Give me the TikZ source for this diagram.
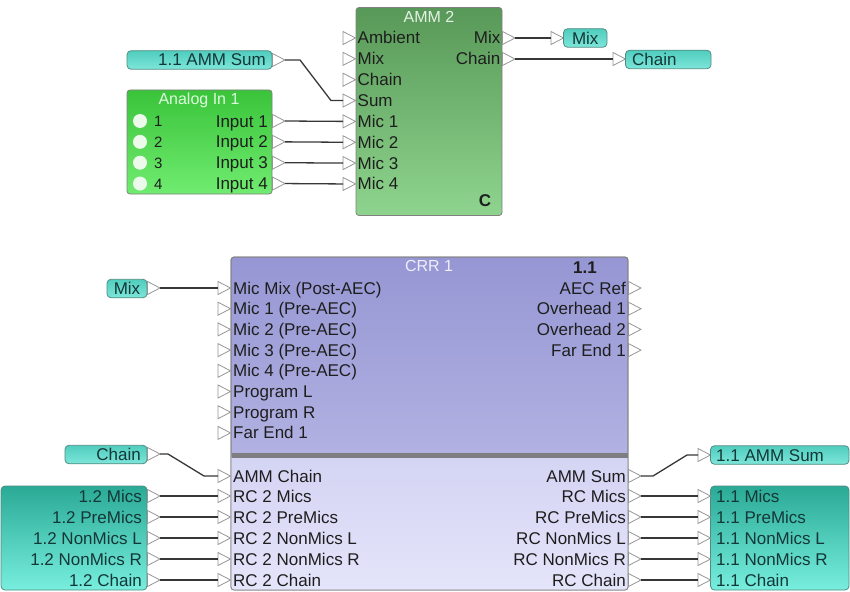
\documentclass[tikz,border=0pt]{standalone}
\usepackage{fontspec}
\setmainfont{Liberation Sans}
\usetikzlibrary{calc}
\definecolor{ammtop}{RGB}{88,152,88}
\definecolor{ammbot}{RGB}{142,212,142}
\definecolor{anatop}{RGB}{58,196,58}
\definecolor{anabot}{RGB}{112,236,112}
\definecolor{tagtop}{RGB}{80,205,190}
\definecolor{tagbot}{RGB}{125,230,218}
\definecolor{bigtop}{RGB}{42,170,150}
\definecolor{bigbot}{RGB}{120,238,222}
\definecolor{crrtop}{RGB}{150,150,212}
\definecolor{crrbot}{RGB}{196,196,236}
\definecolor{crrlowtop}{RGB}{212,212,244}
\definecolor{crrlowbot}{RGB}{228,228,250}
\definecolor{boxborder}{RGB}{128,128,128}
\definecolor{tagborder}{RGB}{80,140,130}
\definecolor{wirecol}{RGB}{55,55,55}
\definecolor{tricol}{RGB}{150,150,150}
\definecolor{txt}{RGB}{30,30,30}
\definecolor{tagtxt}{RGB}{20,55,55}
\definecolor{ammtitle}{RGB}{228,242,228}
\definecolor{anatitle}{RGB}{222,250,222}
\definecolor{crrtitle}{RGB}{238,238,252}
\definecolor{dotcol}{RGB}{236,250,236}
\definecolor{sepcol}{RGB}{125,125,130}
\newcommand\fs{\fontsize{17}{20}\selectfont}
\newcommand\portpin[3]{%
  \draw[porttri] (#2,#3-6.5) -- (#2+12.5,#3) -- (#2,#3+6.5) -- cycle;
  \coordinate (#1-l) at (#2,#3);
  \coordinate (#1-r) at (#2+12.5,#3);
}
\begin{document}
\begin{tikzpicture}[x=1pt,y=-1pt,
  blk/.style={draw=boxborder, line width=0.8pt, rounded corners=3pt, inner sep=0pt},
  tagbox/.style={draw=tagborder, line width=0.8pt, rounded corners=4pt, inner sep=0pt, top color=tagtop, bottom color=tagbot, minimum height=18.5pt},
  bigbox/.style={draw=tagborder, line width=0.8pt, rounded corners=4pt, inner sep=0pt, top color=bigtop, bottom color=bigbot},
  porttri/.style={draw=tricol, fill=white, line width=0.8pt, line join=miter},
  wire/.style={draw=wirecol, line width=1.3pt},
  lbl/.style={font=\fs, inner sep=0pt, text=txt},
  taglbl/.style={font=\fs, inner sep=0pt, text=tagtxt},
  ttl/.style={font=\fontsize{16}{18}\selectfont, inner sep=0pt}]
\useasboundingbox (0,0) rectangle (850,591);

% ---------------- AMM 2 ----------------
\node[blk, top color=ammtop, bottom color=ammbot, minimum width=146pt, minimum height=208pt] (amm) at (429,111.5) {};
\node[ttl, text=ammtitle] (ammT) at (429,17) {AMM 2};
\node[font=\bfseries\fs, inner sep=0pt, text=txt] (ammC) at (485,201) {C};
\foreach \t [count=\i from 0] in {Ambient,Mix,Chain,Sum,Mic 1,Mic 2,Mic 3,Mic 4} {
  \pgfmathsetmacro\yy{38+20.85*\i}
  \portpin{ammi\i}{343}{\yy}
  \node[lbl, anchor=base west] (ammiL\i) at (357.5,\yy+6) {\t};
}
\foreach \t [count=\i from 0] in {Mix,Chain} {
  \pgfmathsetmacro\yy{38+21*\i}
  \portpin{ammo\i}{502.5}{\yy}
  \node[lbl, anchor=base east] (ammoL\i) at (500.5,\yy+6) {\t};
}

% output tags of AMM 2
\portpin{mixin}{551}{38}
\node[tagbox, minimum width=43.5pt] (mixtag) at (585.25,38) {};
\node[taglbl] (mixtagL) at (585.25,38) {Mix};
\portpin{chainin}{613}{59}
\node[tagbox, minimum width=85.5pt] (chaintag) at (668.25,59.5) {};
\node[taglbl, anchor=base west] (chaintagL) at (632,65.5) {Chain};
\draw[wire] (ammo0-r) -- (mixin-l);
\draw[wire] (ammo1-r) -- (chainin-l);

% 1.1 AMM Sum tag (top left)
\node[tagbox, minimum width=145pt] (sumtag) at (199.5,60) {};
\node[taglbl, anchor=base east] (sumtagL) at (266,66) {1.1 AMM Sum};
\portpin{sumo}{272.5}{60}
\draw[wire] (sumo-r) -- ++(15,0) -- ($(ammi3-l)+(-12,0)$) -- (ammi3-l);

% ---------------- Analog In 1 ----------------
\node[blk, top color=anatop, bottom color=anabot, minimum width=145pt, minimum height=104pt] (ana) at (199.5,142) {};
\node[ttl, text=anatitle] (anaT) at (199,100) {Analog In 1};
\foreach \i in {1,2,3,4} {
  \pgfmathsetmacro\yy{121+20.85*(\i-1)}
  \node[circle, fill=dotcol, minimum size=14pt, inner sep=0pt] (dot\i) at (140,\yy) {};
  \node[font=\fontsize{15}{17}\selectfont, inner sep=0pt, text=txt, anchor=base west] (num\i) at (154,\yy+5.5) {\i};
  \node[lbl, anchor=base east] (anaL\i) at (268,\yy+6) {Input \i};
  \portpin{ai\i}{272.5}{\yy}
}
\draw[wire] (ai1-r) -- (ammi4-l);
\draw[wire] (ai2-r) -- (ammi5-l);
\draw[wire] (ai3-r) -- (ammi6-l);
\draw[wire] (ai4-r) -- (ammi7-l);

% ---------------- CRR 1 ----------------
\node[blk, top color=crrtop, bottom color=crrbot, minimum width=397pt, minimum height=333pt] (crr) at (429.5,423.5) {};
\shade[top color=crrlowtop, bottom color=crrlowbot] (231.5,457) rectangle (627.5,589.5);
\fill[sepcol] (231.5,453) rectangle (627.5,457.5);
\draw[boxborder, line width=0.8pt, rounded corners=3pt] (231,257) rectangle (628,590);
\node[ttl, text=crrtitle] (crrT) at (429,266) {CRR 1};
\node[font=\bfseries\fs, inner sep=0pt, text=txt] (crrN) at (585,268) {1.1};
\foreach \t [count=\i from 0] in {Mic Mix (Post-AEC),Mic 1 (Pre-AEC),Mic 2 (Pre-AEC),Mic 3 (Pre-AEC),Mic 4 (Pre-AEC),Program L,Program R,Far End 1} {
  \pgfmathsetmacro\yy{288+20.7*\i}
  \portpin{ci\i}{218}{\yy}
  \node[lbl, anchor=base west] (ciL\i) at (233,\yy+6) {\t};
}
\foreach \t [count=\i from 0] in {AEC Ref,Overhead 1,Overhead 2,Far End 1} {
  \pgfmathsetmacro\yy{288+20.7*\i}
  \portpin{co\i}{628.5}{\yy}
  \node[lbl, anchor=base east] (coL\i) at (626,\yy+6) {\t};
}
\foreach \t/\yy [count=\i from 0] in {AMM Chain/476,RC 2 Mics/496,RC 2 PreMics/517,RC 2 NonMics L/538,RC 2 NonMics R/559,RC 2 Chain/580} {
  \portpin{cl\i}{218}{\yy}
  \node[lbl, anchor=base west] (clL\i) at (233,\yy+6) {\t};
}
\foreach \t/\yy [count=\i from 0] in {AMM Sum/476,RC Mics/496,RC PreMics/517,RC NonMics L/538,RC NonMics R/559,RC Chain/580} {
  \portpin{cr\i}{628.5}{\yy}
  \node[lbl, anchor=base east] (crL\i) at (626,\yy+6) {\t};
}

% left tags
\node[tagbox, minimum width=40pt] (lmixtag) at (127,288.5) {};
\node[taglbl] (lmixtagL) at (127,288.5) {Mix};
\portpin{lmix}{147.5}{288}
\draw[wire] (lmix-r) -- (ci0-l);

\node[tagbox, minimum width=82pt] (lchaintag) at (106,454.5) {};
\node[taglbl, anchor=base east] (lchaintagL) at (141,460.5) {Chain};
\portpin{lchain}{147.5}{454}
\draw[wire] (lchain-r) -- ++(8,0) -- ($(cl0-l)+(-14,0)$) -- (cl0-l);

\node[bigbox, minimum width=146pt, minimum height=104pt] (lbig) at (74,538) {};
\foreach \t/\yy [count=\i from 1] in {1.2 Mics/496,1.2 PreMics/517,1.2 NonMics L/538,1.2 NonMics R/559,1.2 Chain/580} {
  \node[taglbl, anchor=base east] (lbigL\i) at (142,\yy+6) {\t};
  \portpin{lb\i}{147.5}{\yy}
  \draw[wire] (lb\i-r) -- (cl\i-l);
}

% right tags
\portpin{rsum}{698}{455}
\node[tagbox, minimum width=138.5pt] (rsumtag) at (779.75,455) {};
\node[taglbl, anchor=base west] (rsumtagL) at (716,461) {1.1 AMM Sum};
\draw[wire] (cr0-r) -- ++(12,0) -- ($(rsum-l)+(-11,0)$) -- (rsum-l);

\node[bigbox, minimum width=138.5pt, minimum height=104pt] (rbig) at (779.75,538) {};
\foreach \t/\yy [count=\i from 1] in {1.1 Mics/496,1.1 PreMics/517,1.1 NonMics L/538,1.1 NonMics R/559,1.1 Chain/580} {
  \node[taglbl, anchor=base west] (rbigL\i) at (716,\yy+6) {\t};
  \portpin{rb\i}{698}{\yy}
  \draw[wire] (cr\i-r) -- (rb\i-l);
}
\end{tikzpicture}
\end{document}
